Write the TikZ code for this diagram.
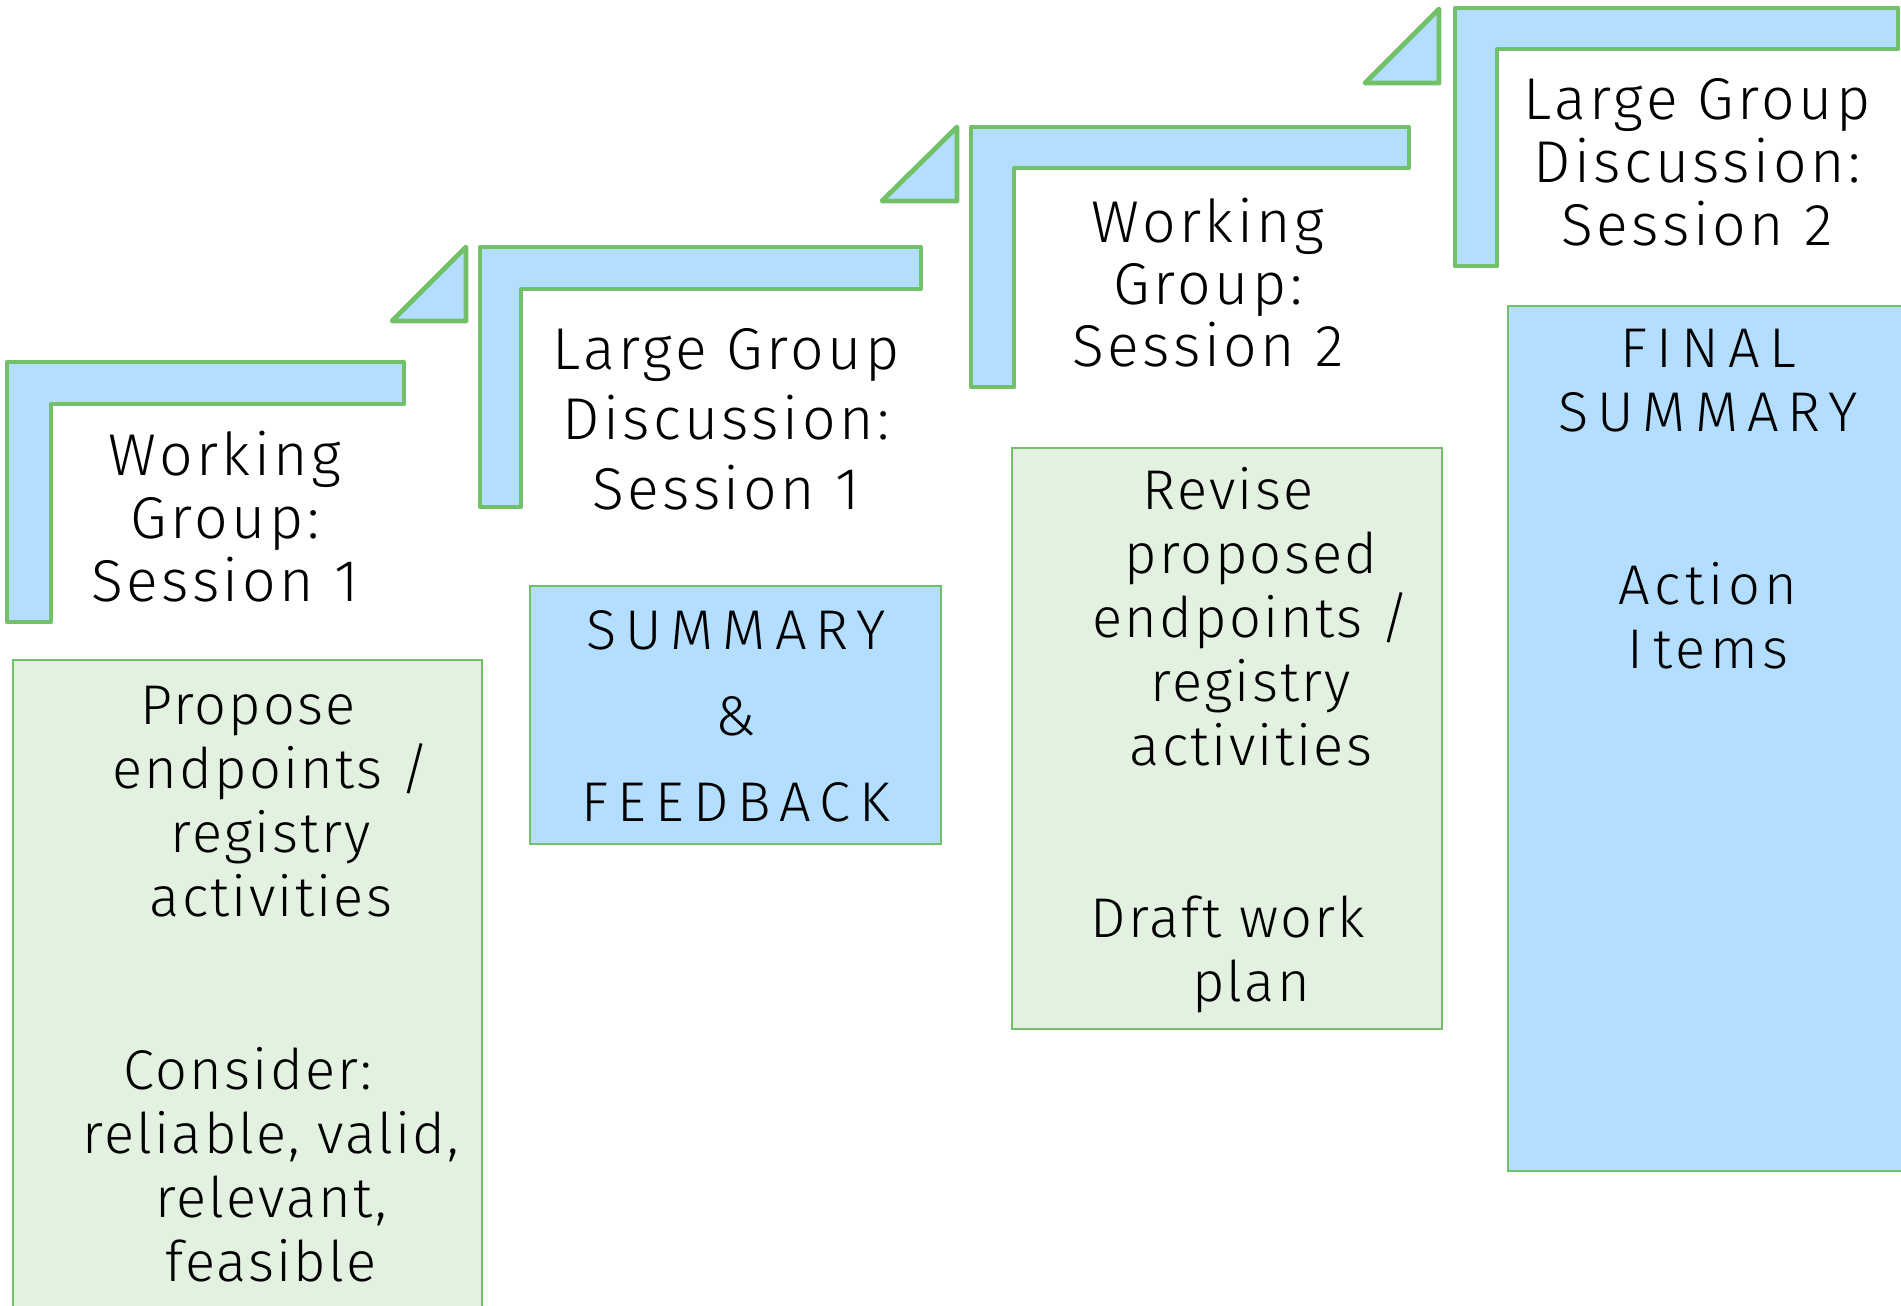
\documentclass[tikz,border=0pt]{standalone}
\usepackage{fontspec}
\setmainfont{Fira Sans Light}[LetterSpace=5]
\definecolor{lblue}{RGB}{179,222,255}
\definecolor{lgreen}{RGB}{226,241,224}
\definecolor{gline}{RGB}{114,192,104}
\newcommand{\wcaps}[1]{{\addfontfeature{LetterSpace=16}#1}}
\begin{document}
\begin{tikzpicture}[x=0.5pt,y=-0.5pt,
  stepshape/.style={draw=gline, fill=lblue, line width=2.4pt, line join=round},
  greenbox/.style={draw=gline, fill=lgreen, line width=1pt},
  bluebox/.style={draw=gline, fill=lblue, line width=1pt},
  headtxt/.style={anchor=base, align=center, inner sep=0pt, font=\fontsize{29.5}{31.5}\selectfont\addfontfeature{LetterSpace=6}},
  boxtxt/.style={anchor=base, align=center, inner sep=0pt, font=\fontsize{28}{32}\selectfont\addfontfeature{LetterSpace=4}}]
\path[use as bounding box, clip] (0,0) rectangle (1901,1306);
\fill[white] (0,0) rectangle (1901,1306);

% stair steps
\draw[stepshape] (7,362) -- (404,362) -- (404,404) -- (51,404) -- (51,622) -- (7,622) -- cycle;
\draw[stepshape] (392,321) -- (466,321) -- (466,247) -- cycle;
\draw[stepshape] (480,247) -- (921,247) -- (921,289) -- (521,289) -- (521,507) -- (480,507) -- cycle;
\draw[stepshape] (882,201) -- (957,201) -- (957,127) -- cycle;
\draw[stepshape] (971,127) -- (1409,127) -- (1409,168) -- (1014,168) -- (1014,387) -- (971,387) -- cycle;
\draw[stepshape] (1365,83) -- (1439,83) -- (1439,9) -- cycle;
\draw[stepshape] (1455,8) -- (1898,8) -- (1898,49) -- (1497,49) -- (1497,266) -- (1455,266) -- cycle;

% boxes
\draw[greenbox] (13,660) rectangle (482,1330);
\draw[bluebox] (530,586) rectangle (941,844);
\draw[greenbox] (1012,448) rectangle (1442,1029);
\draw[bluebox] (1508,306) rectangle (1915,1171);

% headings (anchor = baseline of the last line)
\node[headtxt] (h1) at (225,601) {Working\\Group:\\Session 1};
\node[headtxt, font=\fontsize{29.5}{35}\selectfont\addfontfeature{LetterSpace=6}] (h2) at (726,509) {Large Group\\Discussion:\\Session 1};
\node[headtxt, font=\fontsize{29.5}{31}\selectfont\addfontfeature{LetterSpace=6}] (h3) at (1208,366) {Working\\Group:\\Session 2};
\node[headtxt] (h4) at (1697,245) {Large Group\\Discussion:\\Session 2};

% box texts
\node[boxtxt] (b1) at (248,1281) {Propose\\\hspace*{23pt}endpoints /\\\hspace*{23pt}registry\\\hspace*{23pt}activities\\[54.5pt]Consider:\\\hspace*{23pt}reliable, valid,\\\hspace*{23pt}relevant,\\\hspace*{23pt}feasible};
\node[boxtxt, font=\fontsize{28}{43}\selectfont] (b2) at (736,821) {\wcaps{SUMMARY}\\\&\\\wcaps{FEEDBACK}};
\node[boxtxt] (b3) at (1228,1001) {Revise\\\hspace*{23pt}proposed\\\hspace*{23pt}endpoints /\\\hspace*{23pt}registry\\\hspace*{23pt}activities\\[54pt]Draft work\\\hspace*{23pt}plan};
\node[boxtxt] (b4) at (1708,668) {\wcaps{FI\kern5pt NAL}\\\wcaps{SUMMARY}\\[54.5pt]{\addfontfeature{LetterSpace=8}Action}\\{\addfontfeature{LetterSpace=8}I\kern5pt tems}};
\end{tikzpicture}
\end{document}
